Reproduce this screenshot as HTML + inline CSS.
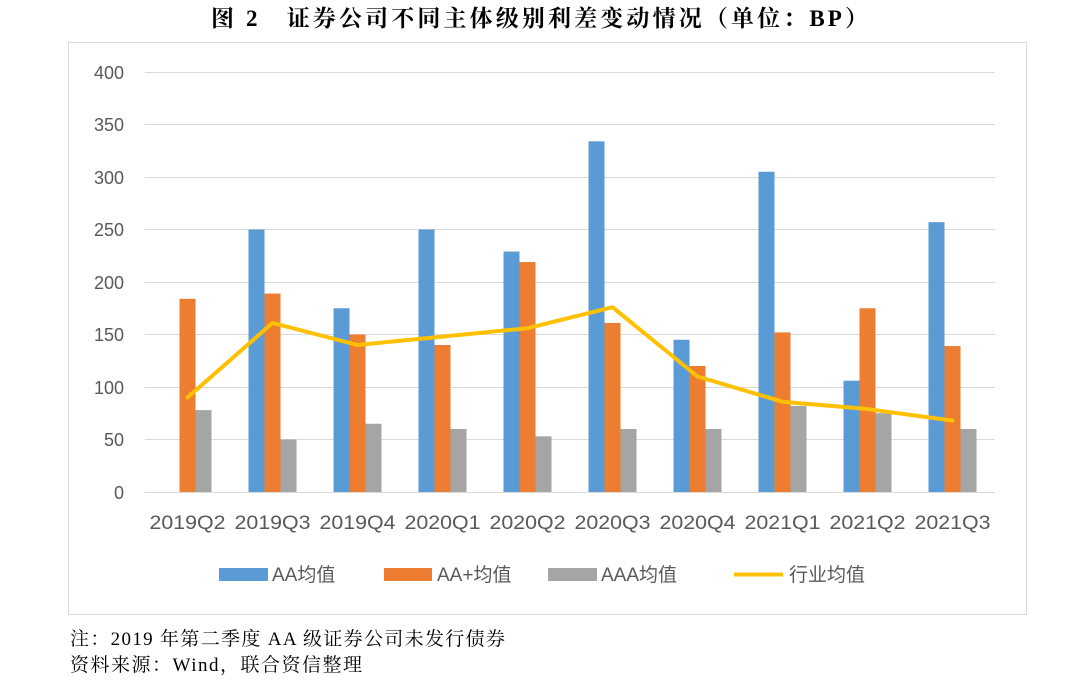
<!DOCTYPE html>
<html><head><meta charset="utf-8"><style>
body{margin:0;background:#fff;width:1080px;height:683px;overflow:hidden}
</style></head><body>
<svg width="1080" height="683" xmlns="http://www.w3.org/2000/svg">
<text x="211" y="26" textLength="657" lengthAdjust="spacing" font-family="'Liberation Serif','Noto Serif CJK SC',serif" font-size="23" font-weight="bold" fill="#000">图 2　证券公司不同主体级别利差变动情况（单位：BP）</text>
<rect x="68.5" y="42.5" width="958" height="572" fill="#fff" stroke="#d9d9d9"/>
<g stroke="#d9d9d9" stroke-width="1">
<line x1="145" x2="995" y1="72.5" y2="72.5"/><line x1="145" x2="995" y1="124.5" y2="124.5"/>
<line x1="145" x2="995" y1="177.5" y2="177.5"/><line x1="145" x2="995" y1="229.5" y2="229.5"/>
<line x1="145" x2="995" y1="282.5" y2="282.5"/><line x1="145" x2="995" y1="334.5" y2="334.5"/>
<line x1="145" x2="995" y1="387.5" y2="387.5"/><line x1="145" x2="995" y1="439.5" y2="439.5"/>
<line x1="145" x2="995" y1="492.5" y2="492.5"/>
</g>
<g font-family="'Liberation Sans',sans-serif" font-size="18" fill="#595959" text-anchor="end">
<text x="124" y="79">400</text><text x="124" y="131">350</text><text x="124" y="184">300</text>
<text x="124" y="236">250</text><text x="124" y="289">200</text><text x="124" y="341">150</text>
<text x="124" y="394">100</text><text x="124" y="446">50</text><text x="124" y="499">0</text>
</g>
<g id="bars"></g>
<g font-family="'Liberation Sans',sans-serif" font-size="19" fill="#595959" text-anchor="middle" id="xl"></g>
<polyline id="ln" fill="none" stroke="#FFC000" stroke-width="4" stroke-linejoin="round" stroke-linecap="round"/>
<rect x="219" y="568" width="49" height="13" fill="#5B9BD5"/>
<rect x="384" y="568" width="48" height="13" fill="#ED7D31"/>
<rect x="548" y="568" width="49" height="13" fill="#A5A5A5"/>
<line x1="734" x2="783" y1="574.5" y2="574.5" stroke="#FFC000" stroke-width="4"/>
<g font-family="'Liberation Sans','Noto Sans CJK SC',sans-serif" font-size="19" fill="#595959">
<text x="272" y="581">AA均值</text><text x="437" y="581">AA+均值</text>
<text x="601" y="581">AAA均值</text><text x="789" y="581">行业均值</text>
</g>
<g font-family="'Liberation Serif','Noto Serif CJK SC',serif" font-size="19" fill="#000">
<text x="70" y="645" textLength="435" lengthAdjust="spacing">注：2019 年第二季度 AA 级证券公司未发行债券</text>
<text x="70" y="671" textLength="292" lengthAdjust="spacing">资料来源：Wind，联合资信整理</text>
</g>
</svg>
<script>
var aa=[0,250,175,250,229,334,145,305,106,257],ap=[184,189,150,140,219,161,120,152,175,139],
aaa=[78,50,65,60,53,60,60,82,75,60],ind=[90,161,140,148,156,176,110,86,79,68],
lb=["2019Q2","2019Q3","2019Q4","2020Q1","2020Q2","2020Q3","2020Q4","2021Q1","2021Q2","2021Q3"];
var ns="http://www.w3.org/2000/svg",b=document.getElementById("bars"),xl=document.getElementById("xl"),pts=[];
function y(v){return 492-v*1.05}
function r(x,v,c){if(!v)return;var e=document.createElementNS(ns,"rect");e.setAttribute("x",x);e.setAttribute("y",y(v));e.setAttribute("width",16);e.setAttribute("height",v*1.05);e.setAttribute("fill",c);b.appendChild(e);}
for(var i=0;i<10;i++){var c=187.5+85*i;r(c-24,aa[i],"#5B9BD5");r(c-8,ap[i],"#ED7D31");r(c+8,aaa[i],"#A5A5A5");
var t=document.createElementNS(ns,"text");t.setAttribute("x",c);t.setAttribute("y",529);t.setAttribute("textLength",76);t.setAttribute("lengthAdjust","spacingAndGlyphs");t.textContent=lb[i];xl.appendChild(t);
pts.push(c+","+y(ind[i]));}
document.getElementById("ln").setAttribute("points",pts.join(" "));
</script>
</body></html>
